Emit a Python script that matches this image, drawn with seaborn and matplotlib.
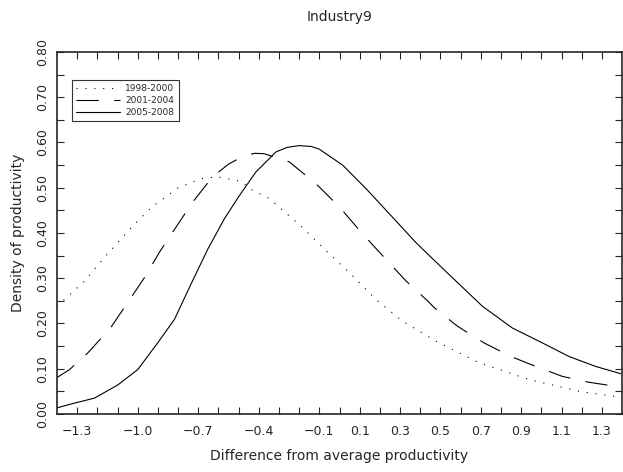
import numpy as np
import pandas as pd
import seaborn as sns
from matplotlib import pyplot as plt

periods = ['1998-2000', '2001-2004', '2005-2008']

x_1998 = [-1.40, -1.267, -1.161, -1.110, -1.025, -0.934, -0.802, -0.686, -0.604, -0.48,
          -0.447, -0.348, -0.191, -0.067, 0.056, 0.18, 0.312, 0.436, 0.477, 0.692,
          0.939, 1.187, 1.375]
y_1998 = [0.238, 0.292, 0.348, 0.373, 0.415, 0.456, 0.499, 0.520, 0.524, 0.513,
          0.498, 0.476, 0.415, 0.361, 0.309, 0.253, 0.205, 0.172, 0.161, 0.113,
          0.076, 0.050, 0.038]

x_2001 = [-1.405, -1.338, -1.247, -1.135, -1.05, -0.967, -0.893, -0.81, -0.728, -0.629,
          -0.55, -0.48, -0.42, -0.373, -0.249, -0.117, 0.0, 0.114, 0.221, 0.329, 0.436,
          0.469, 0.584, 0.716, 0.849, 0.972, 1.104, 1.236, 1.368]
y_2001 = [0.079, 0.098, 0.135, 0.19, 0.246, 0.301, 0.357, 0.413, 0.468, 0.524,
          0.552, 0.569, 0.576, 0.575, 0.557, 0.509, 0.457, 0.398, 0.346, 0.294, 0.25,
          0.235, 0.194, 0.157, 0.127, 0.105, 0.083, 0.07, 0.061]

x_2005 = [-1.404, -1.313, -1.214, -1.099, -1.0, -0.901, -0.818, -0.736, -0.653, -0.571,
          -0.497, -0.414, -0.315, -0.26, -0.2, -0.14, -0.1, 0.015, 0.131, 0.262, 0.378, 0.44,
          0.576, 0.708, 0.856, 1.005, 1.137, 1.269, 1.393]
y_2005 = [0.013, 0.024, 0.035, 0.064, 0.098, 0.157, 0.209, 0.287, 0.364, 0.431,
          0.482, 0.535, 0.579, 0.589, 0.593, 0.591, 0.585, 0.55, 0.498, 0.435, 0.379, 0.352,
          0.294, 0.238, 0.19, 0.157, 0.127, 0.105, 0.089]

x_labels = ['-1.3', '-1.0', '-0.7', '-0.4', '-0.1', '0.1', '0.3', '0.5', '0.7', '0.9', '1.1', '1.3']

df = pd.concat([
    pd.DataFrame({'x': x_1998, 'y': y_1998, 'period': periods[0]}),
    pd.DataFrame({'x': x_2001, 'y': y_2001, 'period': periods[1]}),
    pd.DataFrame({'x': x_2005, 'y': y_2005, 'period': periods[2]}),
])

sns.set_style('ticks')
plt.rcParams['font.family'] = ['DejaVu Sans']

fig = plt.figure(figsize=(6.23, 4.72), dpi=100)
ax = fig.add_axes([0.0915, 0.123, 0.907, 0.767])

sns.lineplot(data=df, x='x', y='y', hue='period', style='period', sort=False,
             palette=['black'] * 3, linewidth=0.8,
             dashes={periods[0]: (1, 7), periods[1]: (20, 14), periods[2]: ''},
             ax=ax)

ax.set_xlim(-1.40, 1.40)
ax.set_ylim(0, 0.8)

xt = np.round(np.arange(-1.3, 1.31, 0.1), 1)
ax.set_xticks(xt)
ax.set_xticklabels([f'{v:.1f}'.replace('-', '\u2212') if f'{v:.1f}' in x_labels else '' for v in xt])
yt = np.round(np.arange(0, 0.81, 0.05), 2)
ax.set_yticks(yt)
ax.set_yticklabels([f'{v:.2f}' if round(v * 100) % 10 == 0 else '' for v in yt],
                   rotation=90, va='center')
ax.tick_params(direction='in', top=True, right=True, length=5, width=0.8, labelsize=9)
ax.tick_params(axis='x', pad=8)
ax.tick_params(axis='y', pad=6)
for s in ax.spines.values():
    s.set_linewidth(1.2)

ax.set_xlabel('Difference from average productivity', fontsize=10, labelpad=8)
ax.set_ylabel('Density of productivity', fontsize=10, labelpad=8)
ax.set_title('Industry9', fontsize=10, pad=22)

leg = ax.legend(loc='upper left', bbox_to_anchor=(0.018, 0.935), fontsize=6.5,
                frameon=True, fancybox=False, edgecolor='black', handlelength=4.8,
                borderpad=0.5, labelspacing=0.3, handletextpad=0.6, title=None)
leg.get_frame().set_linewidth(0.8)

fig.savefig('out.png', dpi=100)
